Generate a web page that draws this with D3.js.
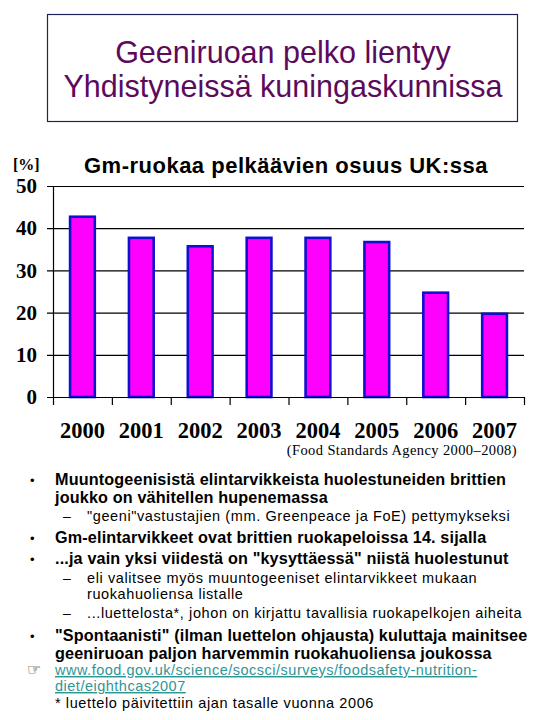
<!DOCTYPE html>
<html>
<head>
<meta charset="utf-8">
<script src="https://cdn.jsdelivr.net/npm/d3@7"></script>
<style>
  body { margin: 0; background: #fff; }
  svg { display: block; }
  .sans { font-family: "Liberation Sans", Arial, sans-serif; }
  .serif { font-family: "Liberation Serif", "Times New Roman", serif; }
</style>
</head>
<body>
<svg id="slide" width="540" height="720"></svg>
<script>
/* ---------- data ---------- */
const years = ["2000", "2001", "2002", "2003", "2004", "2005", "2006", "2007"];
const shares = [43, 38, 36, 38, 38, 37, 25, 20];
const yTicks = [0, 10, 20, 30, 40, 50];

const titleLines = ["Geeniruoan pelko lientyy", "Yhdistyneissä kuningaskunnissa"];
const chartTitle = "Gm-ruokaa pelkäävien osuus UK:ssa";
const unitLabel = "[%]";
const sourceNote = "(Food Standards Agency 2000\u20132008)";

// bullet text: level 1 = bold bullet, level 2 = dash sub-bullet
const bullets = [
  {level: 1, lines: ["Muuntogeenisistä elintarvikkeista huolestuneiden brittien", "joukko on vähitellen hupenemassa"]},
  {level: 2, lines: ["\"geeni\"vastustajien (mm. Greenpeace ja FoE) pettymykseksi"]},
  {level: 1, lines: ["Gm-elintarvikkeet ovat brittien ruokapeloissa 14. sijalla"]},
  {level: 1, lines: ["...ja vain yksi viidestä on \"kysyttäessä\" niistä huolestunut"]},
  {level: 2, lines: ["eli valitsee myös muuntogeeniset elintarvikkeet mukaan", "ruokahuoliensa listalle"]},
  {level: 2, lines: ["...luettelosta*, johon on kirjattu tavallisia ruokapelkojen aiheita"]},
  {level: 1, lines: ["\"Spontaanisti\" (ilman luettelon ohjausta) kuluttaja mainitsee", "geeniruoan paljon harvemmin ruokahuoliensa joukossa"]},
];
const linkLines = ["www.food.gov.uk/science/socsci/surveys/foodsafety-nutrition-", "diet/eighthcas2007"];
const footNote = "* luettelo päivitettiin ajan tasalle vuonna 2006";

/* ---------- setup ---------- */
const svg = d3.select("#slide");

// title box
svg.append("rect")
    .attr("x", 47.5).attr("y", 14.5)
    .attr("width", 470).attr("height", 107)
    .attr("fill", "none").attr("stroke", "#22225e").attr("stroke-width", 1.2);

svg.append("g").selectAll("text")
    .data(titleLines)
    .join("text")
    .attr("class", "sans")
    .attr("x", 283)
    .attr("y", (d, i) => 63 + i * 34)
    .attr("text-anchor", "middle")
    .attr("font-size", 30.5)
    .attr("fill", "#5c0a5c")
    .text(d => d);

/* ---------- chart ---------- */
const plot = {left: 53, right: 524, top: 186, bottom: 397};

const x = d3.scaleBand()
    .domain(years)
    .range([plot.left, plot.right])
    .paddingInner(0.58)
    .paddingOuter(0.29);

const xEdges = d3.scaleLinear().domain([0, years.length]).range([plot.left, plot.right]);

const y = d3.scaleLinear().domain([0, 50]).range([plot.bottom, plot.top]);

// gridlines (include the small outside tick on the left)
const grid = svg.append("g")
    .attr("transform", `translate(${plot.left - 6},0)`)
    .call(d3.axisRight(y).tickValues(yTicks).tickSize(plot.right - plot.left + 6).tickFormat(""));
grid.select(".domain").remove();
grid.selectAll("line").attr("stroke", "#000").attr("stroke-width", 1.2);

// y axis with labels
const yAxis = svg.append("g")
    .attr("transform", `translate(${plot.left},0)`)
    .call(d3.axisLeft(y).tickValues(yTicks).tickSize(0).tickPadding(16));
yAxis.select(".domain").attr("stroke", "#000").attr("stroke-width", 1.2);
yAxis.selectAll("text")
    .attr("class", "serif")
    .attr("font-size", 21)
    .attr("font-weight", "bold")
    .attr("fill", "#000");

// bars
svg.append("g")
    .selectAll("rect")
    .data(years.map((yr, i) => ({yr, v: shares[i]})))
    .join("rect")
    .attr("x", d => x(d.yr))
    .attr("y", d => y(d.v) + 1.2)
    .attr("width", x.bandwidth())
    .attr("height", d => y(0) - y(d.v) - 1.2)
    .attr("fill", "#ff00ff")
    .attr("stroke", "#1010d0")
    .attr("stroke-width", 2.6);

// x axis: tick marks at band edges
const xTickAxis = svg.append("g")
    .attr("transform", `translate(0,${plot.bottom})`)
    .call(d3.axisBottom(xEdges).tickValues(d3.range(0, years.length + 1)).tickSize(8).tickSizeOuter(0).tickFormat(""));
xTickAxis.selectAll("line, path").attr("stroke", "#000").attr("stroke-width", 1.2);

// x labels
const xLabelAxis = svg.append("g")
    .attr("transform", `translate(0,${plot.bottom})`)
    .call(d3.axisBottom(x).tickSize(0).tickPadding(25));
xLabelAxis.select(".domain").remove();
xLabelAxis.selectAll("text")
    .attr("class", "serif")
    .attr("font-size", 22.5)
    .attr("font-weight", "bold")
    .attr("fill", "#000");

// chart titles
svg.append("text")
    .attr("class", "serif")
    .attr("x", 13).attr("y", 170)
    .attr("font-size", 16).attr("font-weight", "bold")
    .text(unitLabel);

svg.append("text")
    .attr("class", "sans")
    .attr("x", 286).attr("y", 173)
    .attr("text-anchor", "middle")
    .attr("font-size", 22).attr("font-weight", "bold")
    .attr("letter-spacing", 0.5)
    .text(chartTitle);

svg.append("text")
    .attr("class", "serif")
    .attr("x", 517).attr("y", 455)
    .attr("text-anchor", "end")
    .attr("font-size", 14.5)
    .attr("letter-spacing", 0.4)
    .text(sourceNote);

/* ---------- bullet text ---------- */
const lineY = [485, 503, 521, 543, 564, 583, 599, 618, 641, 659];
const txt = svg.append("g").attr("class", "sans");
let li = 0;
bullets.forEach(b => {
  const bold = b.level === 1;
  txt.append("text")
      .attr("x", bold ? 30 : 63)
      .attr("y", lineY[li])
      .attr("font-size", bold ? 13 : 14)
      .text(bold ? "\u2022" : "\u2013");
  b.lines.forEach(line => {
    txt.append("text")
        .attr("x", bold ? 55 : 87)
        .attr("y", lineY[li++])
        .attr("font-size", bold ? 16.2 : 14.5)
        .attr("font-weight", bold ? "bold" : null)
        .attr("letter-spacing", bold ? 0.15 : 0.6)
        .text(line);
  });
});

// pointing hand + link
txt.append("text")
    .attr("x", 27).attr("y", 675)
    .attr("font-family", "DejaVu Sans")
    .attr("font-size", 16)
    .attr("fill", "#000")
    .text("\u261E");

txt.selectAll("text.link")
    .data(linkLines)
    .join("text")
    .attr("class", "link")
    .attr("x", 55)
    .attr("y", (d, i) => 675 + i * 16)
    .attr("font-size", 14.5)
    .attr("letter-spacing", 0.5)
    .attr("fill", "#2f9696")
    .attr("text-decoration", "underline")
    .text(d => d);

txt.append("text")
    .attr("x", 55).attr("y", 708)
    .attr("font-size", 14.5)
    .attr("letter-spacing", 0.6)
    .text(footNote);
</script>
</body>
</html>
